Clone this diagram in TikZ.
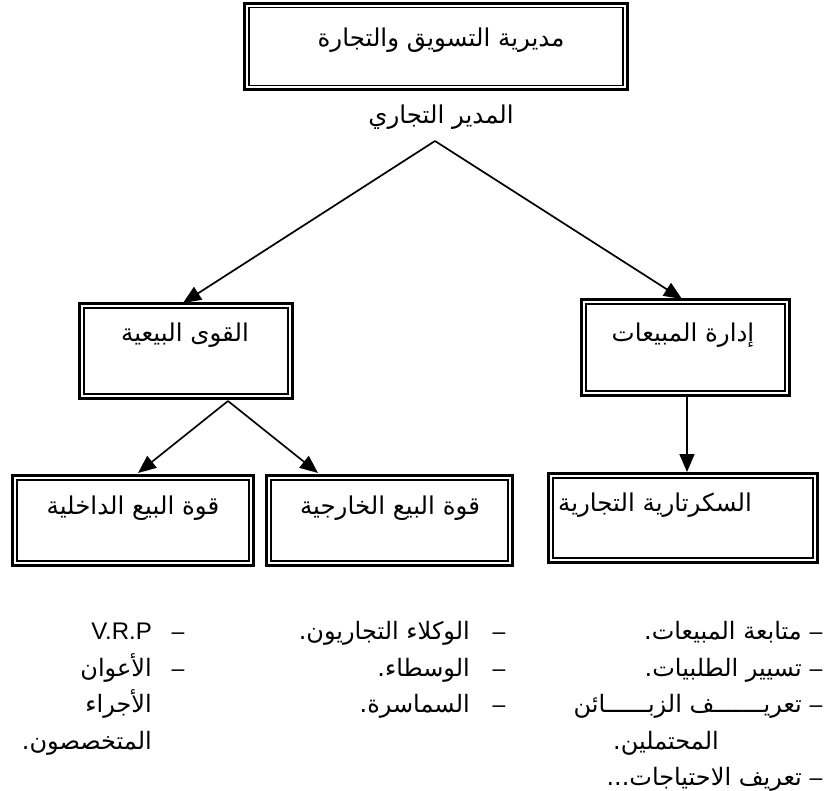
\documentclass[tikz,border=0pt]{standalone}
\usepackage{fontspec}
\setmainfont{Liberation Sans}
\newfontfamily\arabicfont[Script=Arabic]{DejaVu Sans}
\TeXXeTstate=1
\usetikzlibrary{arrows.meta}
\newcommand{\AR}[1]{{\arabicfont\beginR #1\endR}}
\newcommand{\dframe}[1]{%
  \draw[line width=3pt] (#1.south west) rectangle (#1.north east);
  \draw[line width=1.5pt] ([shift={(4.3pt,4.3pt)}]#1.south west) rectangle ([shift={(-4.3pt,-4.3pt)}]#1.north east);}
\tikzset{
  boxst/.style={draw=none, inner sep=0pt, minimum width=#1},
  lbl/.style={inner sep=0pt, font=\fontsize{24.5}{28}\selectfont},
  item/.style={inner sep=0pt, anchor=base east, font=\fontsize{24}{27}\selectfont},
  dashst/.style={inner sep=0pt, anchor=base, font=\fontsize{23}{26}\selectfont},
  arr/.style={line width=1.7pt, -{Triangle[length=18pt,width=15pt]}}
}
\begin{document}
\begin{tikzpicture}[x=1pt,y=-1pt]
\useasboundingbox (0,0) rectangle (834,791);
% boxes
\node[boxst=382pt, minimum height=86pt] (top) at (436,46.5) {};
\node[boxst=212pt, minimum height=94pt] (midL) at (186,351) {};
\node[boxst=207pt, minimum height=95pt] (midR) at (685.5,347.5) {};
\node[boxst=240pt, minimum height=89pt] (lowL) at (133,520.5) {};
\node[boxst=245pt, minimum height=89pt] (lowM) at (389.5,520.5) {};
\node[boxst=268pt, minimum height=88pt] (lowR) at (683,518) {};
\dframe{top}\dframe{midL}\dframe{midR}\dframe{lowL}\dframe{lowM}\dframe{lowR}
% labels
\node[lbl] (ttop) at (441,40) {\AR{مديرية التسويق والتجارة}};
\node[lbl] (tmgr) at (441,117) {\AR{المدير التجاري}};
\node[lbl] (tmidL) at (185,335) {\AR{القوى البيعية}};
\node[lbl] (tmidR) at (683,335) {\AR{إدارة المبيعات}};
\node[lbl] (tlowL) at (133,508) {\AR{قوة البيع الداخلية}};
\node[lbl] (tlowM) at (390,508) {\AR{قوة البيع الخارجية}};
\node[lbl] (tlowR) at (655,505) {\AR{السكرتارية التجارية}};
% connectors
\coordinate (apex) at (435,141);
\coordinate (tipL) at (183,303);
\coordinate (tipR) at (682,299);
\draw[arr] (apex) -- (tipL);
\draw[arr] (apex) -- (tipR);
\coordinate (apex2) at (228,401);
\coordinate (tipLL) at (138,473);
\coordinate (tipLM) at (318,473);
\draw[arr] (apex2) -- (tipLL);
\draw[arr] (apex2) -- (tipLM);
\coordinate (dsrc) at (687,397);
\coordinate (dtip) at (687,472);
\draw[arr] (dsrc) -- (dtip);
% right list
\node[dashst] (rd1) at (816,639) {–};
\node[item] (r1) at (802,639) {\AR{متابعة المبيعات.}};
\node[dashst] (rd2) at (816,676) {–};
\node[item] (r2) at (802,676) {\AR{تسيير الطلبيات.}};
\node[dashst] (rd3) at (816,712) {–};
\node[item] (r3) at (802,712) {\AR{تعريـــــــف الزبــــــائن}};
\node[inner sep=0pt, anchor=base west, font=\fontsize{24}{27}\selectfont] (r4) at (613,749) {\AR{المحتملين.}};
\node[dashst] (rd5) at (816,785) {–};
\node[item] (r5) at (802,785) {\AR{تعريف الاحتياجات...}};
% middle list
\node[dashst] (md1) at (499,639) {–};
\node[item] (m1) at (470,639) {\AR{الوكلاء التجاريون.}};
\node[dashst] (md2) at (499,676) {–};
\node[item] (m2) at (470,676) {\AR{الوسطاء.}};
\node[dashst] (md3) at (499,712) {–};
\node[item] (m3) at (470,712) {\AR{السماسرة.}};
% left list
\node[dashst] (ld1) at (178,639) {–};
\node[item] (l1) at (152,639) {{\fontsize{24}{28}\selectfont V.R.P}};
\node[dashst] (ld2) at (178,676) {–};
\node[item] (l2) at (152,676) {\AR{الأعوان}};
\node[item] (l3) at (152,712) {\AR{الأجراء}};
\node[item] (l4) at (152,749) {\AR{المتخصصون.}};
\end{tikzpicture}
\end{document}
